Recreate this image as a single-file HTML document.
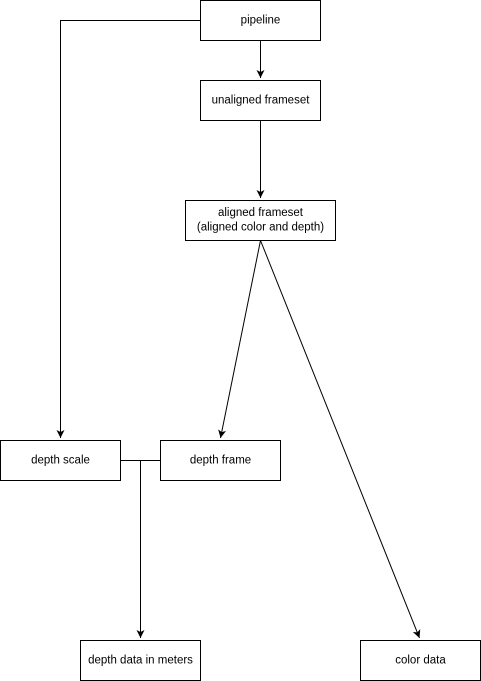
<!DOCTYPE html>
<html><head><meta charset="utf-8"><style>
html,body{margin:0;padding:0;background:#fff;}
svg{display:block;}
text{font-family:"Liberation Sans",Arial,sans-serif;font-size:11.5px;fill:#000;}
</style></head><body>
<svg width="481" height="681" viewBox="0 0 481 681" xmlns="http://www.w3.org/2000/svg">
<defs><marker id="a" markerWidth="10" markerHeight="10" refX="8" refY="5" orient="auto" markerUnits="userSpaceOnUse">
<path d="M0,1 L8,5 L0,9 L2,5 Z" fill="#000"/></marker></defs>
<g fill="none" stroke="#000" stroke-width="1">
<path d="M200.5,20.5 H60.5 V438" marker-end="url(#a)"/>
<path d="M260.5,40.5 V78" marker-end="url(#a)"/>
<path d="M260.5,120.5 V198" marker-end="url(#a)"/>
<path d="M260.5,240.5 L220.5,438" marker-end="url(#a)"/>
<path d="M260.5,240.5 L419.5,638" marker-end="url(#a)"/>
<path d="M120.5,460.5 H160.5"/>
<path d="M140.5,460.5 V638" marker-end="url(#a)"/>
<rect x="200.5" y="0.5" width="120" height="40"/>
<rect x="200.5" y="80.5" width="120" height="40"/>
<rect x="185.5" y="200.5" width="150" height="40"/>
<rect x="0.5" y="440.5" width="120" height="40"/>
<rect x="160.5" y="440.5" width="120" height="40"/>
<rect x="80.5" y="640.5" width="120" height="40"/>
<rect x="360.5" y="640.5" width="120" height="40"/>
</g>
<g text-anchor="middle">
<text x="260.5" y="23.5">pipeline</text>
<text x="260.5" y="103.5">unaligned frameset</text>
<text x="260.5" y="216">aligned frameset</text>
<text x="260.5" y="230.5">(aligned color and depth)</text>
<text x="60.5" y="463.5">depth scale</text>
<text x="220.5" y="463.5">depth frame</text>
<text x="140.5" y="663.5">depth data in meters</text>
<text x="420.5" y="663.5">color data</text>
</g>
</svg>
</body></html>
